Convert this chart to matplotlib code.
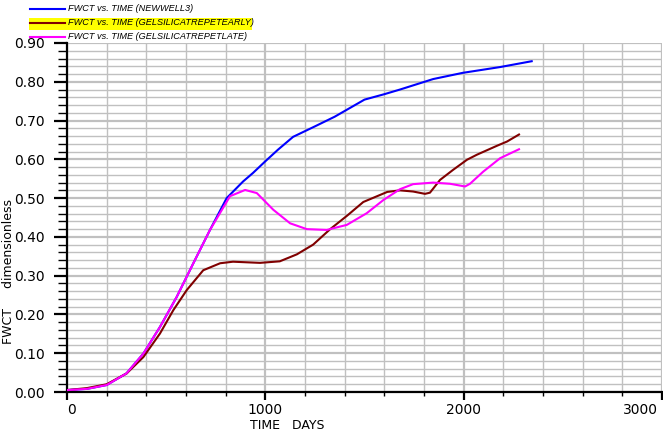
import numpy as np
import matplotlib.pyplot as plt
from matplotlib.lines import Line2D
from matplotlib.patches import Rectangle
from matplotlib.transforms import offset_copy
from matplotlib.ticker import MultipleLocator, FormatStrFormatter, NullFormatter

# Data
days_newwell = [0, 100, 200, 300, 385, 469, 553, 637, 721, 805, 888, 938, 1000,
                1064, 1140, 1250, 1350, 1500, 1600, 1679, 1846, 1995, 2184, 2343]
fwct_newwell = [0.005, 0.008, 0.018, 0.048, 0.099, 0.168, 0.245, 0.332, 0.418,
                0.500, 0.543, 0.565, 0.595, 0.625, 0.658, 0.685, 0.710, 0.754,
                0.768, 0.780, 0.807, 0.823, 0.838, 0.853]

days_early = [0, 100, 200, 301, 385, 469, 536, 604, 687, 772, 837, 973, 1073,
              1159, 1241, 1327, 1413, 1494, 1615, 1679, 1745, 1805, 1830, 1881,
              1947, 2017, 2067, 2168, 2219, 2279]
fwct_early = [0.005, 0.010, 0.020, 0.048, 0.090, 0.151, 0.211, 0.263, 0.314,
              0.332, 0.336, 0.333, 0.337, 0.355, 0.380, 0.420, 0.455, 0.490,
              0.516, 0.520, 0.517, 0.511, 0.514, 0.547, 0.573, 0.599, 0.612,
              0.635, 0.646, 0.664]

days_late = [0, 100, 200, 300, 385, 469, 553, 637, 721, 822, 898, 957, 1040,
             1125, 1209, 1310, 1411, 1511, 1595, 1679, 1745, 1846, 1931, 2007,
             2032, 2098, 2184, 2279]
fwct_late = [0.005, 0.008, 0.018, 0.048, 0.099, 0.168, 0.245, 0.332, 0.418,
             0.505, 0.521, 0.513, 0.470, 0.435, 0.420, 0.418, 0.431, 0.461,
             0.495, 0.523, 0.536, 0.540, 0.537, 0.530, 0.537, 0.568, 0.603,
             0.626]

xticks = [0, 1000, 2000, 3000]
labels = ["FWCT vs. TIME (NEWWELL3)",
          "FWCT vs. TIME (GELSILICATREPETEARLY)",
          "FWCT vs. TIME (GELSILICATREPETLATE)"]
colors = ["#0000ff", "#800000", "#ff00ff"]

W, H = 663, 434
fig = plt.figure(figsize=(W / 100, H / 100), dpi=100)
ax_h = 392 - 43
ax = fig.add_axes([67 / W, 1 - 392 / H, (662 - 67) / W, ax_h / H])

series = [(days_newwell, fwct_newwell), (days_early, fwct_early), (days_late, fwct_late)]
for (d, v), c in zip(series, colors):
    ax.plot(d, v, color=c, lw=1.5, zorder=3)

ax.set_xlim(0, 3000)
ax.set_ylim(0, 0.9)
ax.set_xticks(xticks)
ax.xaxis.set_minor_locator(MultipleLocator(200))
ax.xaxis.set_major_formatter(NullFormatter())
ax.yaxis.set_major_locator(MultipleLocator(0.1))
ax.yaxis.set_minor_locator(MultipleLocator(0.02))
ax.yaxis.set_major_formatter(FormatStrFormatter("%.2f"))

ax.grid(which="major", color="#c0c0c0", lw=1.6, zorder=0)
ax.grid(which="minor", color="#c0c0c0", lw=1.0, zorder=0)
ax.set_axisbelow(True)

for s in ["top", "right"]:
    ax.spines[s].set_visible(False)
for s in ["left", "bottom"]:
    ax.spines[s].set_linewidth(1.6)

font = "DejaVu Sans"
ax.tick_params(axis="y", which="major", length=9.4, width=1.6, labelsize=10, pad=6.5)
ax.tick_params(axis="y", which="minor", length=6.5, width=1.0)
ax.tick_params(axis="x", which="major", length=5.8, width=1.6)
ax.tick_params(axis="x", which="minor", length=2.6, width=1.0)

# x tick labels: first one left aligned, last one right aligned, like the reference
base = ax.get_xaxis_transform()
for i, t in enumerate(xticks):
    ha = "left" if i == 0 else ("right" if i == len(xticks) - 1 else "center")
    dx = -4 if i == len(xticks) - 1 else 0
    tr = offset_copy(base, fig=fig, x=dx, y=0, units="dots")
    ax.text(t, -10.5 / ax_h, str(t), transform=tr, ha=ha, va="top", fontsize=10,
            family=font, clip_on=False)

fig.text(250 / W, 1 - 425.5 / H, "TIME   DAYS", fontsize=9, family=font, va="center", ha="left")
fig.text(9 / W, 1 - 271 / H, "FWCT     dimensionless", fontsize=9, family=font,
         rotation=90, va="center", ha="center")

# legend in the top-left corner
fig.add_artist(Rectangle((29 / W, 1 - 30 / H), (252 - 29) / W, 12 / H,
                         transform=fig.transFigure, facecolor="#ffff00", edgecolor="none"))
for i, (lab, c) in enumerate(zip(labels, colors)):
    yy = 1 - (8.5 + 14.2 * i) / H
    fig.add_artist(Line2D([30 / W, 65 / W], [yy, yy], transform=fig.transFigure, color=c, lw=1.5))
    fig.text(68 / W, yy, lab, fontsize=6.6, family="Liberation Sans", style="italic",
             va="center", ha="left")

fig.savefig("out.png", dpi=100)
